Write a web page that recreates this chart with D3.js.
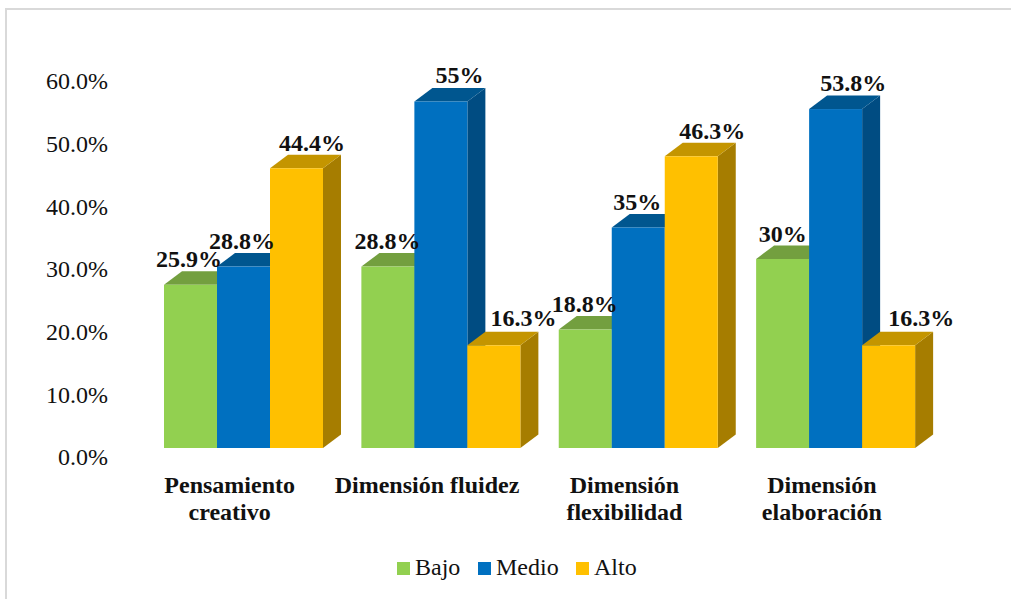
<!DOCTYPE html>
<html><head><meta charset="utf-8">
<script src="https://cdnjs.cloudflare.com/ajax/libs/d3/7.8.5/d3.min.js"></script>
<style>html,body{margin:0;padding:0;background:#fff}svg{display:block}text{font-family:"Liberation Serif",serif;fill:#111}</style>
</head><body><svg id="c" width="1011" height="599"></svg>
<script>
const categories=[["Pensamiento","creativo"],["Dimensión fluidez"],["Dimensión","flexibilidad"],["Dimensión","elaboración"]];
const seriesNames=["Bajo","Medio","Alto"];
const bajo=[25.9,28.8,18.8,30];
const medio=[28.8,55,35,53.8];
const alto=[44.4,16.3,46.3,16.3];
const labelTexts=[["25.9%","28.8%","44.4%"],["28.8%","55%","16.3%"],["18.8%","35%","46.3%"],["30%","53.8%","16.3%"]];
const tickValues=[0,10,20,30,40,50,60];
const colors={Bajo:["#92D050","#739F3F","#5F8A30"],Medio:["#0070C0","#00568F","#004C82"],Alto:["#FFC000","#C49500","#A67D00"]};
const labelNudges=[[[-1.5,-17.6],[-1.5,-17.5],[15.5,-17.2]],[[-0.5,-17.5],[18.5,-18.5],[29.5,-19.3]],[[-0.5,-17.7],[-1,-17.4],[21,-17.1]],[[0,-17.1],[17.5,-18],[32.5,-19.3]]];
const values={Bajo:bajo,Medio:medio,Alto:alto};
const depthX=18,depthY=13.5,fs=24;

const svg=d3.select("#c");
svg.append("rect").attr("x",6).attr("y",9).attr("width",1100).attr("height",700).attr("fill","#fff").attr("stroke","#d9d9d9").attr("stroke-width",2);

const y=d3.scaleLinear().domain([0,60]).range([448,70]);
const yAxisScale=d3.scaleLinear().domain([0,60]).range([457,81]);
const x0=d3.scaleBand().domain(d3.range(categories.length)).range([145,934.5]);
const x1=d3.scaleBand().domain(seriesNames).range([19,178]);

const axis=d3.axisLeft(yAxisScale).tickValues(tickValues).tickFormat(d=>d3.format(".1f")(d)+"%").tickSize(0).tickPadding(0);
const ag=svg.append("g").attr("transform","translate(108,0)").call(axis);
ag.select(".domain").remove();
ag.selectAll("text").style("font-family",'"Liberation Serif",serif').style("font-size",fs+"px");

categories.forEach((c,i)=>{
  const g=svg.append("g").attr("transform",`translate(${x0(i)},0)`);
  seriesNames.forEach(s=>{
    const v=values[s][i],l=x1(s),w=x1.bandwidth(),r=l+w,t=y(v),b=y(0),col=colors[s];
    g.append("path").attr("fill",col[2]).attr("d",`M${r},${t}L${r+depthX},${t-depthY}L${r+depthX},${b-depthY}L${r},${b}Z`);
    g.append("path").attr("fill",col[1]).attr("d",`M${l},${t}L${l+depthX},${t-depthY}L${r+depthX},${t-depthY}L${r},${t}Z`);
    g.append("rect").attr("x",l).attr("y",t).attr("width",w).attr("height",b-t).attr("fill",col[0]);
  });
});
categories.forEach((c,i)=>{
  seriesNames.forEach((s,j)=>{
    const n=labelNudges[i][j];
    svg.append("text").attr("x",x0(i)+x1(s)+x1.bandwidth()/2+n[0]).attr("y",y(values[s][i])+n[1])
      .attr("text-anchor","middle").attr("font-weight","bold").attr("font-size",fs).text(labelTexts[i][j]);
  });
  const cx=x0(i)+x0.bandwidth()/2-14;
  const t=svg.append("text").attr("text-anchor","middle").attr("font-weight","bold").attr("font-size",fs);
  c.forEach((line,k)=>t.append("tspan").attr("x",cx).attr("y",493+k*27).text(line));
});

const legX=d3.scaleOrdinal().domain(seriesNames).range([397,478,576]);
seriesNames.forEach(s=>{
  svg.append("rect").attr("x",legX(s)).attr("y",562).attr("width",13).attr("height",13).attr("fill",colors[s][0]);
  svg.append("text").attr("x",legX(s)+18).attr("y",575).attr("font-size",fs).text(s);
});
</script></body></html>
